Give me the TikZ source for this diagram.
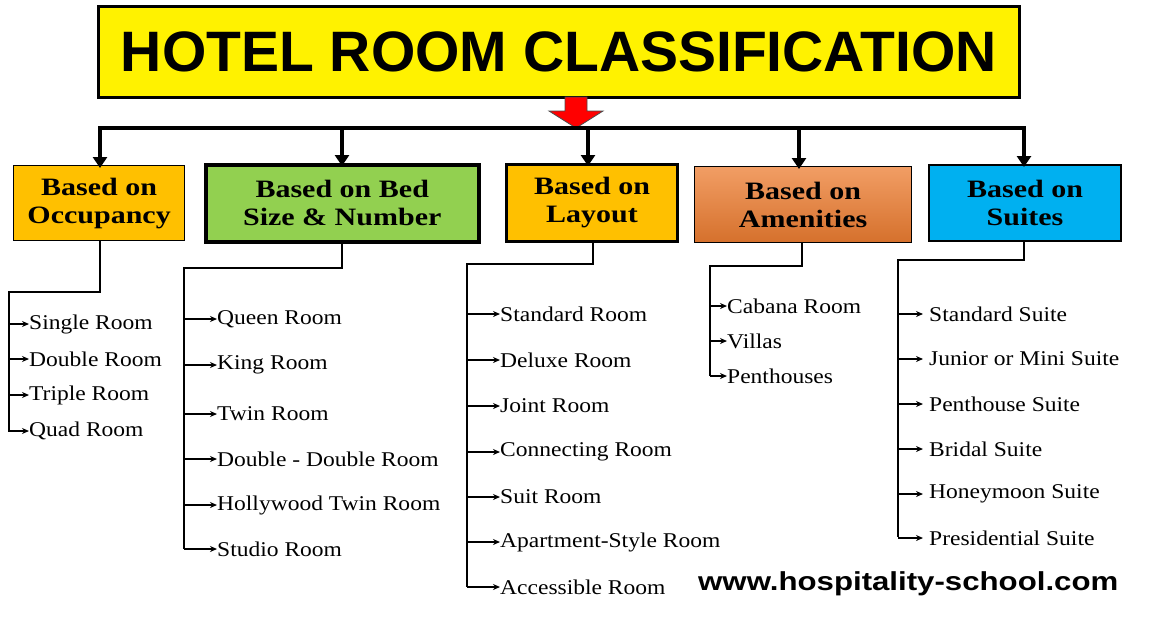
\documentclass[tikz,border=0pt]{standalone}
\usepackage{fontspec}
\setmainfont{Liberation Serif}
\newfontfamily\hsans{Liberation Sans}
\newfontfamily\itemfont[FakeStretch=1.12]{Liberation Serif}
\newfontfamily\catfont[FakeStretch=1.2]{Liberation Serif}
\newfontfamily\urlfont[FakeStretch=1.2]{Liberation Sans}
\usetikzlibrary{arrows.meta}
\definecolor{amber}{HTML}{FFC000}
\definecolor{lgreen}{HTML}{92D050}
\definecolor{orng}{HTML}{ED7D31}
\definecolor{sky}{HTML}{00B0F0}
\begin{document}
\begin{tikzpicture}[x=1pt,y=-1pt,
  cat/.style={draw=black,align=center,font=\catfont\bfseries\fontsize{25}{28}\selectfont,inner sep=0pt},
  item/.style={anchor=west,font=\itemfont\fontsize{21}{22}\selectfont,inner sep=0pt},
  tree/.style={line width=1.6pt},
  sub/.style={line width=1.3pt,-{Stealth[length=7pt,width=6pt]}},
  down/.style={line width=3.5pt,-{Triangle[length=11pt,width=14pt]}}]
\useasboundingbox[fill=white] (0,0) rectangle (1164,619);
% title
\node[draw=black,line width=3pt,fill=yellow,minimum width=921pt,minimum height=91pt,anchor=north west,
  font=\hsans\bfseries\fontsize{57}{60}\selectfont] (title) at (97,5) {HOTEL ROOM CLASSIFICATION};
% red block arrow
\coordinate (redtip) at (576,128);
\filldraw[fill=red,draw=black!70,line width=0.8pt] (565,97) -- (587,97) -- (587,111) -- (603,111) -- (redtip) -- (549,111) -- (565,111) -- cycle;
% bar
\coordinate (bl) at (100,128); \coordinate (br) at (1024,128);
\draw[line width=3.5pt] (bl) -- (br);
% category boxes
\node[cat,fill=amber,line width=1.2pt,minimum width=171pt,minimum height=75pt,anchor=north west] (c1) at (13,165) {Based on\\Occupancy};
\node[cat,fill=lgreen,line width=3.5pt,minimum width=273pt,minimum height=77pt,anchor=north west] (c2) at (204,163) {Based on Bed\\Size \& Number};
\node[cat,fill=amber,line width=3pt,minimum width=171pt,minimum height=77pt,anchor=north west] (c3) at (505,163) {Based on\\Layout};
\node[cat,top color=orng!75!white,bottom color=orng!90!black,line width=1.2pt,minimum width=217pt,minimum height=76pt,anchor=north west] (c4) at (694,166) {Based on\\Amenities};
\node[cat,fill=sky,line width=2pt,minimum width=192pt,minimum height=76pt,anchor=north west] (c5) at (928,164) {Based on\\Suites};
\foreach \x/\c in {100/c1,342/c2,588/c3,799/c4,1024/c5}
  \draw[down] (\x,126) -- ([yshift=-3pt]\c.north -| \x,0);
% lists
\newcommand{\mklist}[5]{%
  \draw[tree] (#1.south -| #2,0) -- (#2,#3) -- (#4,#3) -- (#4,#5);}
\mklist{c1}{100}{292}{9}{432}
\mklist{c2}{342}{268}{184}{549}
\mklist{c3}{593}{264}{467}{587}
\mklist{c4}{802}{266}{710}{376}
\mklist{c5}{1024}{260}{898}{537}
\foreach \y/\t [count=\i] in {324/Single Room,359/Double Room,395/Triple Room,431/Quad Room}{
  \node[item] (o\i) at (29,\y) {\t}; \draw[sub] (9,\y) -- (o\i.west);}
\foreach \y/\t [count=\i] in {319/Queen Room,365/King Room,414/Twin Room,459/Double - Double Room,505/Hollywood Twin Room,549/Studio Room}{
  \node[item] (b\i) at (217,\y) {\t}; \draw[sub] (184,\y) -- (b\i.west);}
\foreach \y/\t [count=\i] in {314/Standard Room,360/Deluxe Room,406/Joint Room,452/Connecting Room,497/Suit Room,542/Apartment-Style Room,587/Accessible Room}{
  \node[item] (l\i) at (500,\y) {\t}; \draw[sub] (467,\y) -- (l\i.west);}
\foreach \y/\t [count=\i] in {306/Cabana Room,341/Villas,376/Penthouses}{
  \node[item] (a\i) at (727,\y) {\t}; \draw[sub] (710,\y) -- (a\i.west);}
\foreach \y/\t [count=\i] in {314/Standard Suite,359/Junior or Mini Suite,404/Penthouse Suite,449/Bridal Suite,494/Honeymoon Suite,538/Presidential Suite}{
  \node[item] (s\i) at (929,\y) {\t}; \draw[sub] (898,\y) -- ([xshift=-6pt]s\i.west);}
\node[anchor=west,inner sep=0pt,font=\urlfont\bfseries\fontsize{26}{27}\selectfont] (url) at (698,584) {www.hospitality-school.com};
\end{tikzpicture}
\end{document}
